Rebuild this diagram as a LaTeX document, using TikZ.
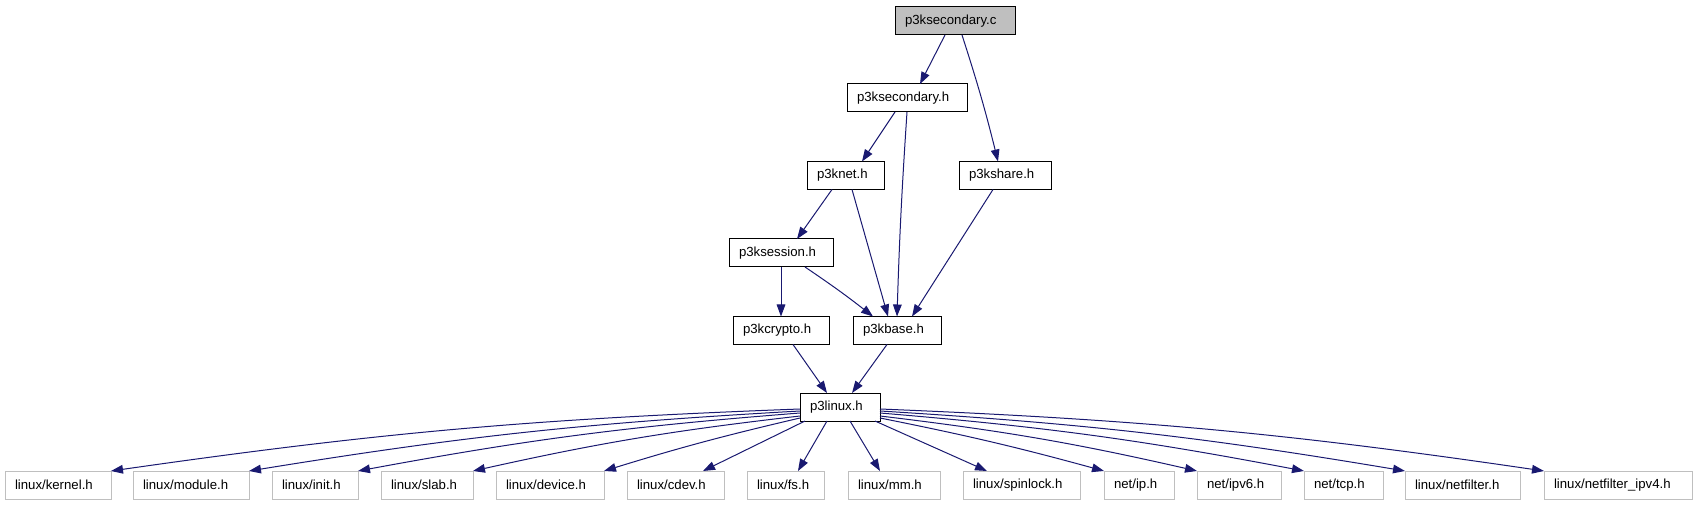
\documentclass[tikz,border=0pt]{standalone}
\usepackage{fontspec}
\setmainfont{Liberation Sans}
\usepackage{tikz}
\usetikzlibrary{calc}
\usetikzlibrary{arrows.meta}

\definecolor{edgeblue}{HTML}{191970}
\definecolor{extgray}{HTML}{BFBFBF}

\begin{document}
\begin{tikzpicture}[x=0.75pt, y=0.75pt,
    every node/.style={font=\fontsize{9.9}{12}\selectfont},
    file/.style={draw=black, line width=0.75pt, fill=white, minimum height=21pt,
        inner xsep=7.5pt, inner ysep=0pt, outer sep=0pt, align=left},
    ext/.style={file, draw=extgray},
    dep/.style={-{Triangle[length=9pt, width=6.5pt]}, draw=edgeblue, line width=0.75pt}]

\useasboundingbox (0,0) rectangle (1696,504);

% --- PROJECT FILES (Top Section) ---
\begin{scope}
    \node[file, fill=extgray, text width=75pt] (c) at (955,483) {p3ksecondary.c};
    \node[file, text width=75pt] (sech) at (907,406) {p3ksecondary.h};
    \node[file, text width=42.75pt] (net) at (845.5,328.5) {p3knet.h};
    \node[file, text width=54pt] (share) at (1005,328.5) {p3kshare.h};
    \node[file, text width=63pt] (sess) at (781,251) {p3ksession.h};
    \node[file, text width=57pt] (crypto) at (781,173.5) {p3kcrypto.h};
    \node[file, text width=51pt] (base) at (897,173.5) {p3kbase.h};
    \node[file, text width=45pt] (lin) at (840,97) {p3linux.h};

    % Includes between project files
    \draw[dep] ($(c.south)+(-10,0)$) -- ($(sech.north)+(13,0)$);
    \draw[dep] ($(c.south)+(7,0)$) to[bend left=2] ($(share.north)+(-7,0)$);
    \draw[dep] ($(sech.south)+(-12,0)$) -- ($(net.north)+(16.5,0)$);
    \draw[dep] (sech.south) to[bend right=1] (base.north);
    \draw[dep] ($(net.south)+(-13.5,0)$) -- ($(sess.north)+(16,0)$);
    \draw[dep] ($(net.south)+(6.5,0)$) -- ($(base.north)+(-9,0)$);
    \draw[dep] ($(share.south)+(-12,0)$) -- ($(base.north)+(15,0)$);
    \draw[dep] (sess.south) -- (crypto.north);
    \draw[dep] ($(sess.south)+(24,0)$) to[bend left=2] ($(base.north)+(-24,0)$);
    \draw[dep] ($(crypto.south)+(12,0)$) -- ($(lin.north)+(-13,0)$);
    \draw[dep] ($(base.south)+(-10,0)$) -- ($(lin.north)+(12,0)$);
\end{scope}

% --- SYSTEM HEADERS (Bottom Section) ---
\begin{scope}
    \node[ext, text width=64.5pt] (kernel) at (58,19) {linux/kernel.h};
    \node[ext, text width=72pt] (module) at (191,19) {linux/module.h};
    \node[ext, text width=49.5pt] (init) at (315,19) {linux/init.h};
    \node[ext, text width=54pt] (slab) at (427,19) {linux/slab.h};
    \node[ext, text width=66pt] (device) at (550,19) {linux/device.h};
    \node[ext, text width=57.75pt] (cdev) at (675.5,19) {linux/cdev.h};
    \node[ext, text width=42.75pt] (fs) at (785.5,19) {linux/fs.h};
    \node[ext, text width=54pt] (mm) at (894,19) {linux/mm.h};
    \node[ext, text width=72.75pt] (spin) at (1021.5,19) {linux/spinlock.h};
    \node[ext, text width=37.5pt] (ip) at (1139,19) {net/ip.h};
    \node[ext, text width=48pt] (ipv6) at (1239,19) {net/ipv6.h};
    \node[ext, text width=44.25pt] (tcp) at (1343.5,19) {net/tcp.h};
    \node[ext, text width=71.25pt] (nf) at (1462.5,19) {linux/netfilter.h};
    \node[ext, text width=96pt] (nfv) at (1618,19) {linux/netfilter\_ipv4.h};

    % Fan-out of p3linux.h
    \draw[dep] ($(lin.west)+(0,-2)$) to[bend right=3] (kernel.north east);
    \draw[dep] ($(lin.west)+(0,-4)$) to[bend right=3] (module.north east);
    \draw[dep] ($(lin.west)+(0,-6)$) to[bend right=3] (init.north east);
    \draw[dep] ($(lin.west)+(0,-9)$) to[bend right=3] (slab.north east);
    \draw[dep] ($(lin.west)+(0,-11)$) to[bend right=2] (device.north east);
    \draw[dep] ($(lin.south west)+(5,0)$) -- ($(cdev.north)+(27.5,0)$);
    \draw[dep] ($(lin.south)+(-13,0)$) -- ($(fs.north)+(12.5,0)$);
    \draw[dep] ($(lin.south)+(10,0)$) -- ($(mm.north)+(-14,0)$);
    \draw[dep] ($(lin.south east)+(-5,0)$) -- ($(spin.north)+(-34.5,0)$);
    \draw[dep] ($(lin.east)+(0,-11)$) to[bend left=2] (ip.north west);
    \draw[dep] ($(lin.east)+(0,-9)$) to[bend left=3] (ipv6.north west);
    \draw[dep] ($(lin.east)+(0,-6)$) to[bend left=3] (tcp.north west);
    \draw[dep] ($(lin.east)+(0,-4)$) to[bend left=3] (nf.north west);
    \draw[dep] ($(lin.east)+(0,-2)$) to[bend left=3] (nfv.north west);
\end{scope}

\end{tikzpicture}
\end{document}
